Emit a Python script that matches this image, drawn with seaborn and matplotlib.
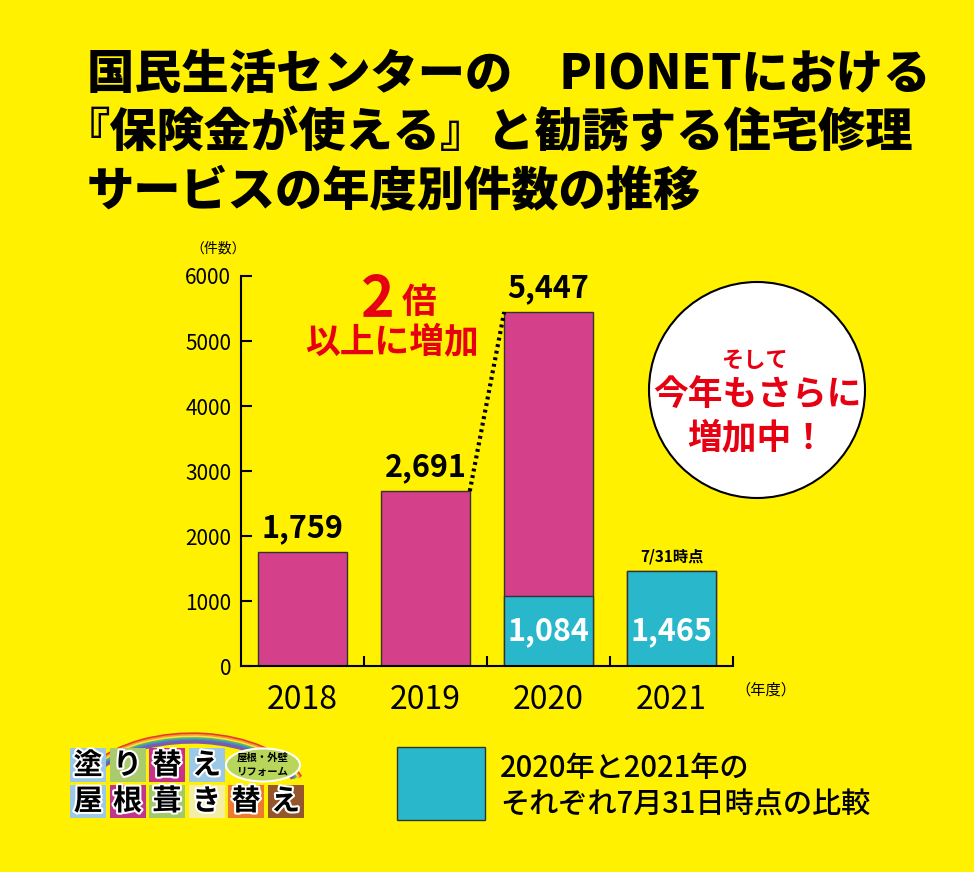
import numpy as np
import pandas as pd
import matplotlib
matplotlib.use("Agg")
import matplotlib.pyplot as plt
import matplotlib.patches as mpatches
import matplotlib.patheffects as pe
import seaborn as sns

# data
years = ["2018", "2019", "2020", "2021"]
totals = [1759, 2691, 5447, 1465]
july_values = [np.nan, np.nan, 1084, 1465]   # 7/31 comparison (cyan)
total_labels = ["1,759", "2,691", "5,447", ""]
july_labels = ["", "", "1,084", "1,465"]
y_ticks = [0, 1000, 2000, 3000, 4000, 5000, 6000]

title_lines = [
    "国民生活センターの　PIONETにおける",
    "『保険金が使える』と勧誘する住宅修理",
    "サービスの年度別件数の推移",
]
legend_lines = ["2020年と2021年の", "それぞれ7月31日時点の比較"]
circle_lines = ["そして", "今年もさらに", "増加中！"]

YELLOW = "#FFF100"
MAGENTA = "#D4408A"
CYAN = "#29B7CB"
RED = "#E60012"

sns.set_style("ticks")
plt.rcParams["font.family"] = ["Noto Sans CJK JP", "DejaVu Sans"]
plt.rcParams["text.color"] = "black"
plt.rcParams["xtick.color"] = "black"
plt.rcParams["ytick.color"] = "black"

W, H = 974, 872
fig = plt.figure(figsize=(W / 100, H / 100), dpi=100)
fig.patch.set_facecolor(YELLOW)

# overlay axes in pixel coordinates for the decorations
ov = fig.add_axes([0, 0, 1, 1], zorder=0)
ov.set_xlim(0, W)
ov.set_ylim(H, 0)
ov.axis("off")

ax = fig.add_axes([241 / W, 1 - 666 / H, 492 / W, 390 / H], zorder=1)
ax.set_facecolor("none")

df = pd.DataFrame({"year": years, "total": totals, "july": july_values})
bar_w = 0.72
sns.barplot(data=df, x="year", y="total", order=years, color=MAGENTA, width=bar_w,
            saturation=1, edgecolor="#333333", linewidth=1, errorbar=None, ax=ax)
sns.barplot(data=df, x="year", y="july", order=years, color=CYAN, width=bar_w,
            saturation=1, edgecolor="#333333", linewidth=1, errorbar=None, ax=ax)

ax.set_xlim(-0.5, 3.5)
ax.set_ylim(0, 6000)
ax.set_yticks(y_ticks)
ax.set_xlabel("")
ax.set_ylabel("")
for s in ["top", "right"]:
    ax.spines[s].set_visible(False)
for s in ["left", "bottom"]:
    ax.spines[s].set_linewidth(1.5)
    ax.spines[s].set_color("black")
ax.tick_params(axis="y", direction="in", length=8, width=1.5, labelsize=15, pad=7)
ax.tick_params(axis="x", which="major", length=0, labelsize=23, pad=13)
ax.set_xticks([0.5, 1.5, 2.5, 3.5], minor=True)
ax.tick_params(axis="x", which="minor", direction="in", length=7.5, width=1.5)

# value labels
for i, lab in enumerate(total_labels):
    if lab:
        ax.annotate(lab, (i, totals[i]), xytext=(0, 17), textcoords="offset points",
                    ha="center", va="center", fontsize=22, fontweight="bold")
inner_y = np.nanmin(july_values) / 2
for i, lab in enumerate(july_labels):
    if lab:
        ax.text(i, inner_y, lab, ha="center", va="center", fontsize=22,
                fontweight="bold", color="white")
ax.annotate("7/31時点", (3, totals[3]), xytext=(0, 10), textcoords="offset points",
            ha="center", va="center", fontsize=11, fontweight="bold")

# dotted line between the 2019 and 2020 bar tops
ax.plot([1 + bar_w / 2, 2 - bar_w / 2], [totals[1], totals[2]], color="black",
        lw=3, ls=(0, (0.7, 0.9)), solid_capstyle="butt")

# titles (the 『 glyph has an empty left half, so line 2 starts further left)
title_x = [87, 63, 87]
for k, line in enumerate(title_lines):
    ov.text(title_x[k], 75 + 58 * k, line, fontsize=34, fontweight="heavy",
            ha="left", va="center")

ov.text(218, 249, "（件数）", fontsize=10, ha="center", va="center")
ov.text(766, 690, "（年度）", fontsize=11, ha="center", va="center")

# 2倍 以上に増加
ov.text(395, 317, "2", fontsize=41, fontweight="bold", color=RED, ha="right", va="baseline")
ov.text(402, 313, "倍", fontsize=25, fontweight="bold", color=RED, ha="left", va="baseline")
ov.text(392, 342, "以上に増加", fontsize=25, fontweight="bold", color=RED, ha="center", va="center")

# circle callout
ov.add_patch(mpatches.Circle((757, 390), 108, fc="white", ec="black", lw=1.5))
ov.text(754, 360, circle_lines[0], fontsize=16, fontweight="bold", color=RED, ha="center", va="center")
ov.text(757, 395, circle_lines[1], fontsize=25, fontweight="bold", color=RED, ha="center", va="center")
ov.text(757, 438, circle_lines[2], fontsize=25, fontweight="bold", color=RED, ha="center", va="center")

# legend
ov.add_patch(mpatches.Rectangle((397, 747), 88, 73, fc=CYAN, ec="#333333", lw=1))
ov.text(500, 768, legend_lines[0], fontsize=21, fontweight="medium", ha="left", va="center")
ov.text(500, 805, legend_lines[1], fontsize=21, fontweight="medium", ha="left", va="center")

# logo (bottom left)
rainbow = ["#E8382F", "#F39A2B", "#FFE33A", "#5DB85C", "#3C8DD0", "#7E5AA8"]
for j, c in enumerate(rainbow):
    ov.add_patch(mpatches.Arc((192, 800), 232 - 3.2 * j, 132 - 3.2 * j, theta1=200, theta2=348,
                              color=c, lw=2.4))
top_chars = ["塗", "り", "替", "え"]
top_cols = ["#9CC8E8", "#A9CB6B", "#C7338A", "#9CC8E8"]
bot_chars = ["屋", "根", "葺", "き", "替", "え"]
bot_cols = ["#9CC8E8", "#C2358D", "#A3C76B", "#F3EDA5", "#EC7A2F", "#94562A"]
stroke = [pe.withStroke(linewidth=3, foreground="white")]
for j, (ch, c) in enumerate(zip(top_chars, top_cols)):
    x0 = 70 + 39.5 * j
    ov.add_patch(mpatches.Rectangle((x0, 748), 36, 34, fc=c, ec="none"))
    ov.text(x0 + 18, 765, ch, fontsize=21, fontweight="bold", ha="center", va="center",
            path_effects=stroke)
for j, (ch, c) in enumerate(zip(bot_chars, bot_cols)):
    x0 = 70 + 39.5 * j
    ov.add_patch(mpatches.Rectangle((x0, 785), 36, 33, fc=c, ec="none"))
    ov.text(x0 + 18, 801, ch, fontsize=21, fontweight="bold", ha="center", va="center",
            path_effects=stroke)
ov.add_patch(mpatches.Ellipse((263, 765), 74, 33, fc="#B8D65A", ec="white", lw=1.5))
ov.text(263, 758, "屋根・外壁", fontsize=7.5, fontweight="bold", ha="center", va="center")
ov.text(263, 772, "リフォーム", fontsize=7.5, fontweight="bold", ha="center", va="center")

fig.savefig("out.png", dpi=100, facecolor=YELLOW)
